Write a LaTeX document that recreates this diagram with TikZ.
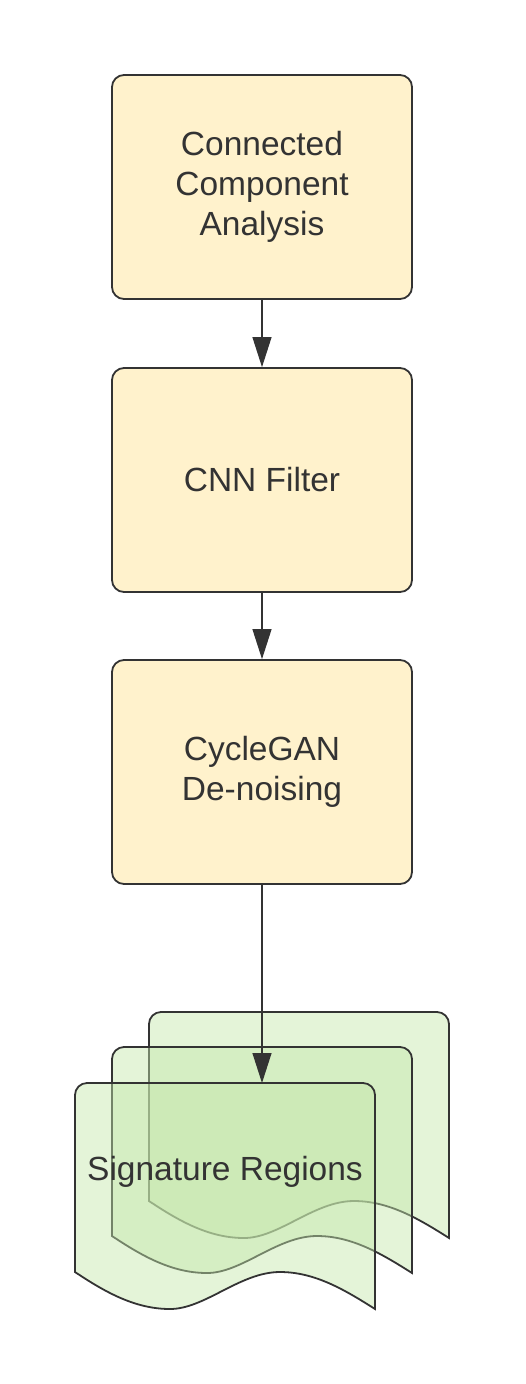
\documentclass[tikz,border=0pt]{standalone}
\usepackage{fontspec}
\setmainfont{Liberation Sans}
\usetikzlibrary{arrows.meta}
\definecolor{boxfill}{HTML}{FFF2CC}
\definecolor{ink}{HTML}{333333}
\definecolor{docfill}{HTML}{C3E6A9}
\tikzset{
  procbox/.style={draw=ink, line width=1.8pt, fill=boxfill, rounded corners=12pt,
    minimum width=300pt, minimum height=224pt, inner sep=0pt, align=center,
    text=ink, font=\fontsize{33.5}{40}\selectfont},
  flow/.style={draw=ink, line width=1.2pt, -{Triangle[length=30pt,width=19pt]}},
  docpage/.style={draw=ink, line width=1.8pt, fill=docfill, fill opacity=0.45},
  doclabel/.style={text=ink, font=\fontsize{33.5}{40}\selectfont, inner sep=0pt}
}
\newcommand\docsheet[2]{%
  \begin{scope}[shift={(#1,#2)}]
    \path[docpage] (0,189) -- (0,12) arc[start angle=180,end angle=270,radius=12]
      -- (288,0) arc[start angle=270,end angle=360,radius=12]
      -- (300,226) .. controls (270,207) and (240,189) .. (205,189)
      .. controls (165,189) and (130,226) .. (95,226)
      .. controls (60,226) and (30,209) .. (0,189) -- cycle;
  \end{scope}}
\begin{document}
\begin{tikzpicture}[x=1pt,y=-1pt]
\useasboundingbox (0,0) rectangle (525,1384);
\node[procbox] (cca) at (262,187) {Connected\\Component\\Analysis};
\node[procbox] (cnn) at (262,480) {CNN Filter};
\node[procbox] (gan) at (262,772) {CycleGAN\\De-noising};
\docsheet{149}{1012}
\docsheet{112}{1047}
\docsheet{75}{1083}
\coordinate (doctop) at (262,1083);
\node[doclabel] (sig) at (225,1172) {Signature Regions};
\draw[flow] (cca.south) -- (cnn.north);
\draw[flow] (cnn.south) -- (gan.north);
\draw[flow] (gan.south) -- (doctop);
\end{tikzpicture}
\end{document}
